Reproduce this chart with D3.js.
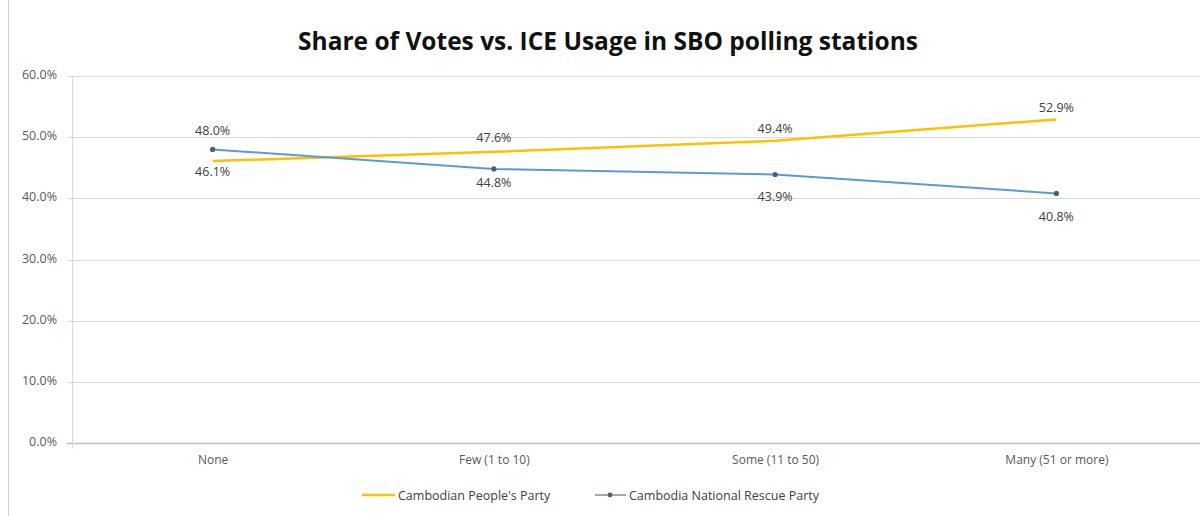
<!DOCTYPE html>
<html>
<head>
<meta charset="utf-8">
<script src="https://cdn.jsdelivr.net/npm/d3@7"></script>
<style>
  html, body { margin: 0; padding: 0; background: #fff; }
  svg { display: block; }
  text { font-family: "Open Sans", "Lato", sans-serif; }
</style>
</head>
<body>
<svg id="chart" width="1202" height="516"></svg>
<script>
// Vote share by ICE usage level
const categories = ["None", "Few (1 to 10)", "Some (11 to 50)", "Many (51 or more)"];
const seriesNames = ["Cambodian People's Party", "Cambodia National Rescue Party"];
const cppValues = [46.1, 47.6, 49.4, 52.9];
const cnrpValues = [48.0, 44.8, 43.9, 40.8];
const yTicks = [0, 10, 20, 30, 40, 50, 60];
const titleText = "Share of Votes vs. ICE Usage in SBO polling stations";

const svg = d3.select("#chart");
const W = 1202, H = 516;
const plot = { left: 72, right: 1197, top: 76, bottom: 443 };

const x = d3.scalePoint().domain(categories).range([plot.left, plot.right]).padding(0.5);
const y = d3.scaleLinear().domain([0, 60]).range([plot.bottom, plot.top]);

// chart frame edge on the left
svg.append("line").attr("x1", 8.5).attr("x2", 8.5).attr("y1", 0).attr("y2", H)
  .attr("stroke", "#d0d0d0").attr("stroke-width", 1);

// title
const title = svg.append("text")
  .attr("x", 608).attr("y", 50)
  .attr("text-anchor", "middle")
  .attr("font-weight", "bold")
  .attr("font-size", 24)
  .attr("fill", "#111")
  .text(titleText);
const tw = title.node().getComputedTextLength();
title.attr("font-size", 24 * 620 / tw);

// gridlines
svg.append("g")
  .selectAll("line")
  .data(yTicks)
  .join("line")
  .attr("x1", plot.left - 5).attr("x2", 1200)
  .attr("y1", d => Math.round(y(d)) + 0.5).attr("y2", d => Math.round(y(d)) + 0.5)
  .attr("stroke", d => d === 0 ? "#bfbfbf" : "#d9d9d9")
  .attr("stroke-width", d => d === 0 ? 1.5 : 1.2);

// vertical axis line
svg.append("line")
  .attr("x1", plot.left + 0.5).attr("x2", plot.left + 0.5)
  .attr("y1", plot.top).attr("y2", plot.bottom + 6)
  .attr("stroke", "#d9d9d9").attr("stroke-width", 1);

// y axis labels
const yAxis = d3.axisLeft(y).tickValues(yTicks).tickSize(0).tickPadding(0)
  .tickFormat(d => d3.format(".1f")(d) + "%");
const yg = svg.append("g").attr("transform", `translate(${plot.left - 15},0)`).call(yAxis);
yg.select(".domain").remove();
yg.selectAll("text").attr("font-size", 12.5).attr("fill", "#595959")
  .attr("font-family", "'Open Sans', sans-serif").attr("dy", "0.2em");

// x axis labels
const xAxis = d3.axisBottom(x).tickSize(0).tickPadding(0);
const xg = svg.append("g").attr("transform", `translate(0,${plot.bottom + 14})`).call(xAxis);
xg.select(".domain").remove();
xg.selectAll("text").attr("font-size", 12).attr("fill", "#595959")
  .attr("font-family", "'Open Sans', sans-serif").attr("dy", "0.6em");

const line = d3.line().x((d, i) => x(categories[i])).y(d => y(d));

// CPP series
svg.append("path").datum(cppValues)
  .attr("d", line).attr("fill", "none")
  .attr("stroke", "#FFC000").attr("stroke-width", 2.5);

// CNRP series
svg.append("path").datum(cnrpValues)
  .attr("d", line).attr("fill", "none")
  .attr("stroke", "#5B9BD5").attr("stroke-width", 2);
svg.append("g").selectAll("circle").data(cnrpValues).join("circle")
  .attr("cx", (d, i) => x(categories[i])).attr("cy", d => y(d))
  .attr("r", 2.6).attr("fill", "#4a5d7e");

// data labels (baseline offsets from each point)
const cppOffsets = [15, -10, -8, -7];
const cnrpOffsets = [-14, 18, 27, 28];
const labels = svg.append("g").attr("font-size", 12.5).attr("fill", "#404040");
cppValues.forEach((v, i) => {
  labels.append("text")
    .attr("x", x(categories[i])).attr("y", y(v) + cppOffsets[i])
    .attr("text-anchor", "middle").text(v.toFixed(1) + "%");
});
cnrpValues.forEach((v, i) => {
  labels.append("text")
    .attr("x", x(categories[i])).attr("y", y(v) + cnrpOffsets[i])
    .attr("text-anchor", "middle").text(v.toFixed(1) + "%");
});

// legend
const lg = svg.append("g").attr("font-size", 12.5).attr("fill", "#404040");
lg.append("line").attr("x1", 362).attr("x2", 395).attr("y1", 495).attr("y2", 495)
  .attr("stroke", "#FFC000").attr("stroke-width", 2.5);
lg.append("text").attr("x", 398).attr("y", 499.5).text(seriesNames[0]);
lg.append("line").attr("x1", 595).attr("x2", 626).attr("y1", 495).attr("y2", 495)
  .attr("stroke", "#7f8c9c").attr("stroke-width", 1.5);
lg.append("circle").attr("cx", 610).attr("cy", 495).attr("r", 2.4).attr("fill", "#4a5d7e");
lg.append("text").attr("x", 629).attr("y", 499.5).text(seriesNames[1]);
</script>
</body>
</html>
